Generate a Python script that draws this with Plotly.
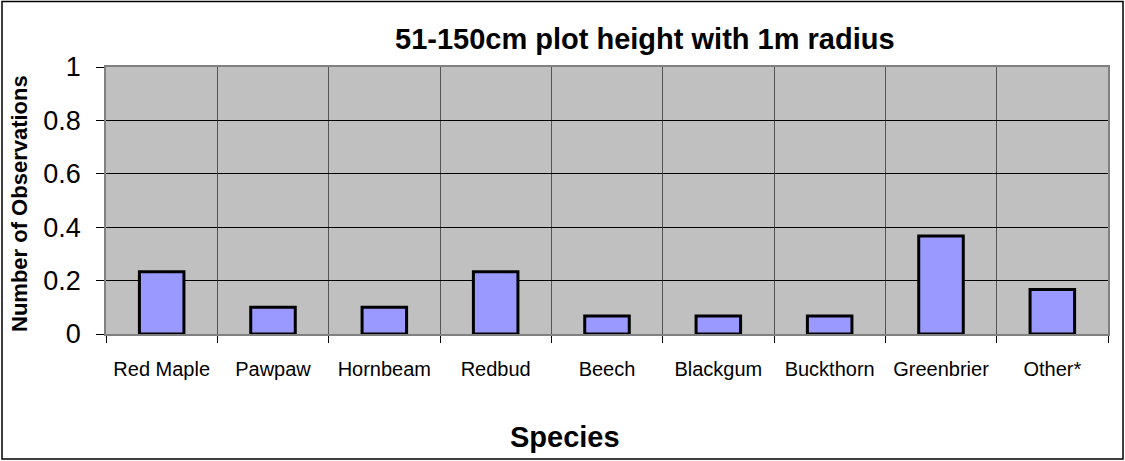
import plotly.graph_objects as go

species = ["Red Maple", "Pawpaw", "Hornbeam", "Redbud", "Beech", "Blackgum",
           "Buckthorn", "Greenbrier", "Other*"]
observations = [0.233, 0.1, 0.1, 0.233, 0.067, 0.067, 0.067, 0.367, 0.167]
y_ticks = [0, 0.2, 0.4, 0.6, 0.8, 1]
y_tick_text = ["0", "0.2", "0.4", "0.6", "0.8", "1"]

W, H = 1125, 461
L, R, T, B = 106, 17, 67, 127
pw, ph = W - L - R, H - T - B

fig = go.Figure(go.Bar(
    x=species, y=observations, width=0.4,
    marker=dict(color="#9999FF", line=dict(color="black", width=3)),
))

fig.update_layout(
    width=W, height=H, margin=dict(l=L, r=R, t=T, b=B),
    paper_bgcolor="white", plot_bgcolor="#C0C0C0",
    font=dict(family="Liberation Sans, Arial, sans-serif", color="black"),
    showlegend=False, bargap=0.6,
    xaxis=dict(
        type="category", tickson="boundaries", showgrid=True,
        gridcolor="#555555", gridwidth=1,
        ticks="outside", ticklen=7, tickcolor="black",
        showline=True, linecolor="#808080", linewidth=1.5, mirror=True,
        tickfont=dict(size=20), ticklabelstandoff=16,
    ),
    yaxis=dict(
        range=[0, 1], tickvals=y_ticks, ticktext=y_tick_text,
        showgrid=True, gridcolor="black", gridwidth=1,
        ticks="outside", ticklen=8, tickcolor="black",
        showline=True, linecolor="#808080", linewidth=1.5, mirror=True,
        tickfont=dict(size=27), ticklabelstandoff=10, zeroline=False,
    ),
    annotations=[
        dict(text="<b>51-150cm plot height with 1m radius</b>", xref="paper", yref="paper",
             x=(645 - L) / pw, y=1 + (T - 39) / ph, showarrow=False,
             font=dict(size=29), xanchor="center", yanchor="middle"),
        dict(text="<b>Species</b>", xref="paper", yref="paper",
             x=(565 - L) / pw, y=-(437 - T - ph) / ph, showarrow=False,
             font=dict(size=29), xanchor="center", yanchor="middle"),
        dict(text="<b>Number of Observations</b>", xref="paper", yref="paper",
             x=-(L - 19) / pw, y=1 - (204 - T) / ph, showarrow=False, textangle=-90,
             font=dict(size=22), xanchor="center", yanchor="middle"),
    ],
    shapes=[
        dict(type="rect", xref="paper", yref="paper",
             x0=-(L - 2) / pw, x1=1 + (R - 2) / pw,
             y0=-(B - 2) / ph, y1=1 + (T - 1.5) / ph,
             line=dict(color="black", width=1.5), fillcolor="rgba(0,0,0,0)"),
    ],
)

fig.write_html("out.html", config={"displayModeBar": False},
               post_script="document.body.style.margin='0';document.body.style.padding='0';")
